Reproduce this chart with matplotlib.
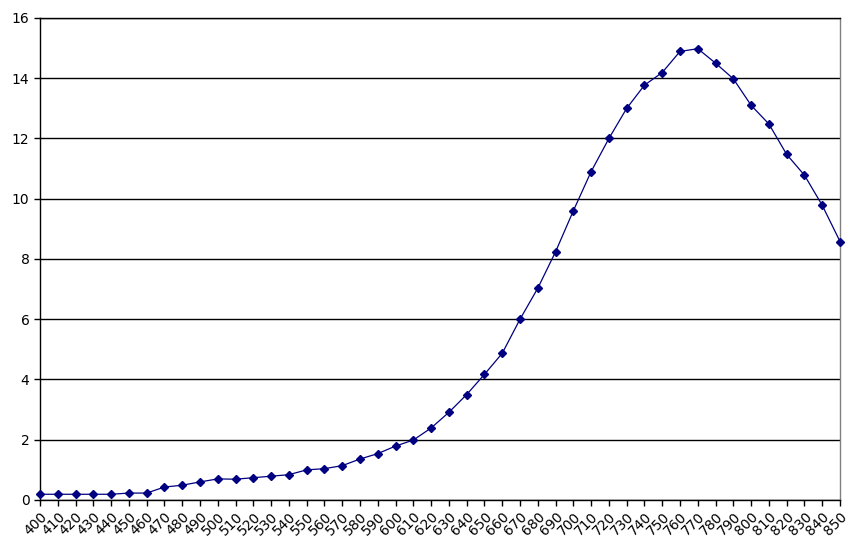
import numpy as np
import matplotlib.pyplot as plt

wavelength = list(range(400, 851, 10))
values = [
    0.19, 0.19, 0.19, 0.19, 0.19, 0.23, 0.23, 0.43, 0.49, 0.60,
    0.70, 0.69, 0.74, 0.79, 0.84, 1.00, 1.04, 1.14, 1.36, 1.54,
    1.79, 1.99, 2.39, 2.91, 3.50, 4.17, 4.87, 6.00, 7.03, 8.24,
    9.60, 10.90, 12.00, 13.00, 13.77, 14.19, 14.89, 14.98, 14.50, 13.98,
    13.10, 12.48, 11.47, 10.78, 9.78, 8.58,
]
y_ticks = list(range(0, 17, 2))

fig = plt.figure(figsize=(8.67, 5.48), dpi=100)
ax = fig.add_axes([0.0461, 0.0876, 0.9228, 0.8796])

ax.plot(wavelength, values, color="#000080", linewidth=0.9,
        marker="D", markersize=4.5, markeredgecolor="#000080",
        markerfacecolor="#000080", zorder=3, clip_on=False)

ax.set_xlim(400, 850)
ax.set_ylim(0, 16)
ax.set_xticks(wavelength)
ax.set_xticklabels([str(w) for w in wavelength], rotation=45,
                   ha="right", rotation_mode="anchor", fontsize=10)
ax.set_yticks(y_ticks)
ax.set_yticklabels([str(t) for t in y_ticks], fontsize=10)

ax.yaxis.grid(True, color="black", linewidth=1)
ax.set_axisbelow(True)
ax.tick_params(axis="both", direction="out", length=4, width=1, color="black")
ax.tick_params(axis="x", pad=3)

for side in ["left", "bottom", "top"]:
    ax.spines[side].set_color("black")
    ax.spines[side].set_linewidth(1)
ax.spines["right"].set_color("#808080")
ax.spines["right"].set_linewidth(1)

fig.savefig("out.png", dpi=100)
